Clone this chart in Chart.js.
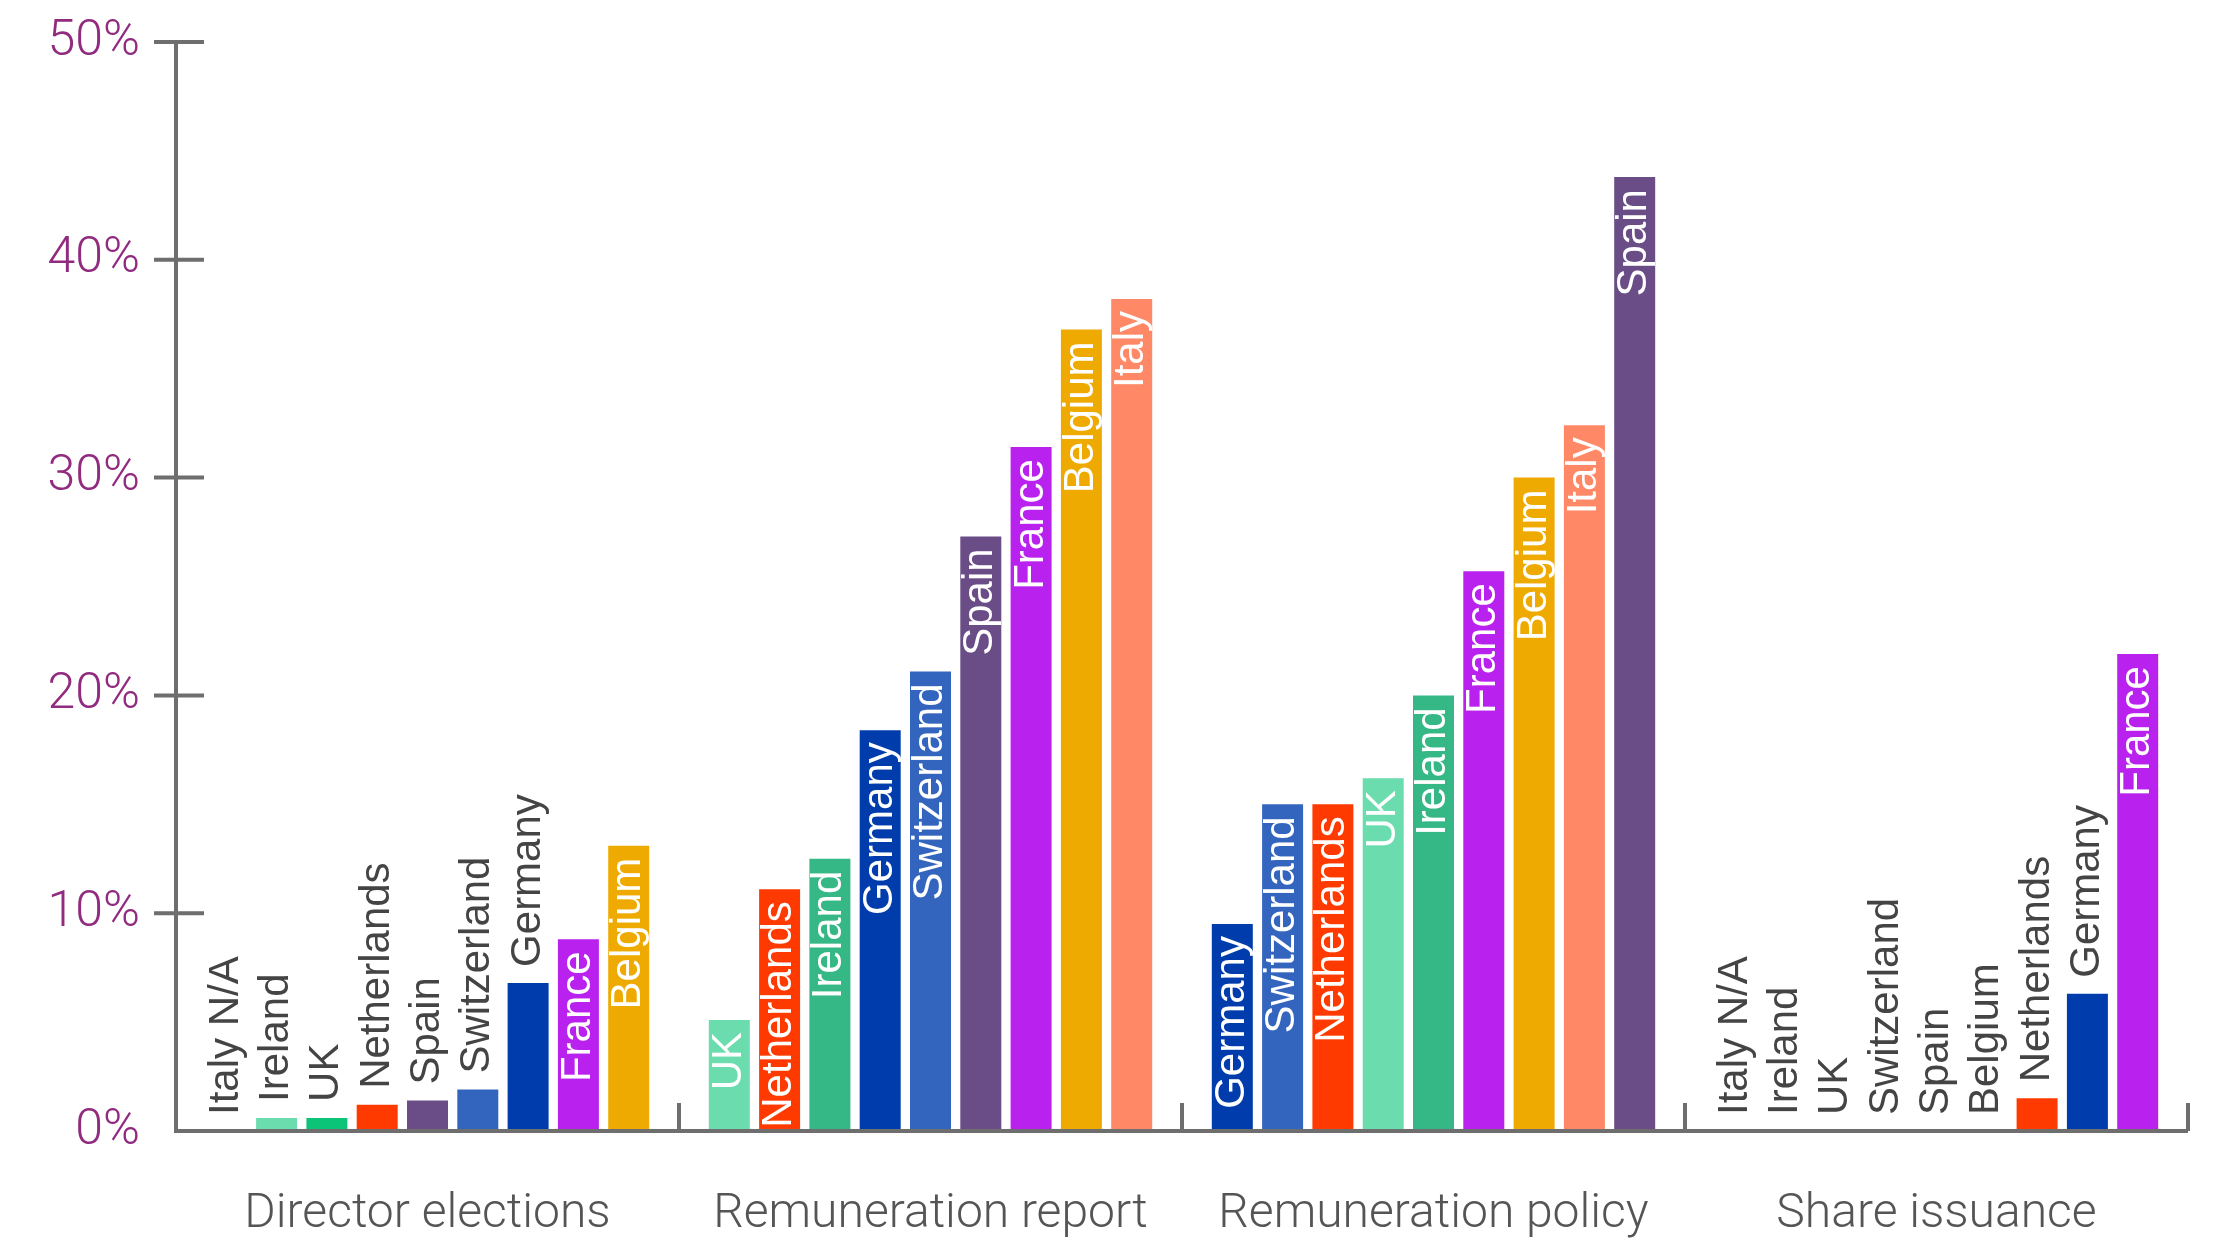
<!DOCTYPE html>
<html>
<head>
<meta charset="utf-8">
<title>Votes against by resolution type</title>
<script src="https://cdn.jsdelivr.net/npm/chart.js@4.4.1/dist/chart.umd.min.js"></script>
<style>
  html, body { margin: 0; padding: 0; background: #fff; }
  #wrap { width: 2213px; height: 1243px; }
</style>
</head>
<body>
<div id="wrap"><canvas id="chart" width="2213" height="1243"></canvas></div>
<script>
// resolution types along the x axis
const groups = ['Director elections', 'Remuneration report', 'Remuneration policy', 'Share issuance'];

// countries per resolution type, sorted by value (as shown)
const directorCountries = ['Italy N/A', 'Ireland', 'UK', 'Netherlands', 'Spain', 'Switzerland', 'Germany', 'France', 'Belgium'];
const directorValues = [null, 0.6, 0.6, 1.2, 1.4, 1.9, 6.8, 8.8, 13.1];

const reportCountries = ['UK', 'Netherlands', 'Ireland', 'Germany', 'Switzerland', 'Spain', 'France', 'Belgium', 'Italy'];
const reportValues = [5.1, 11.1, 12.5, 18.4, 21.1, 27.3, 31.4, 36.8, 38.2];

const policyCountries = ['Germany', 'Switzerland', 'Netherlands', 'UK', 'Ireland', 'France', 'Belgium', 'Italy', 'Spain'];
const policyValues = [9.5, 15.0, 15.0, 16.2, 20.0, 25.7, 30.0, 32.4, 43.8];

const issuanceCountries = ['Italy N/A', 'Ireland', 'UK', 'Switzerland', 'Spain', 'Belgium', 'Netherlands', 'Germany', 'France'];
const issuanceValues = [null, 0, 0, 0, 0, 0, 1.5, 6.3, 21.9];

const yTicks = [0, 10, 20, 30, 40, 50];

const countryColors = {
    'UK': '#6adcad',
    'Ireland': '#35b885',
    'Netherlands': '#ff3a00',
    'Spain': '#6a4c86',
    'Switzerland': '#3465be',
    'Germany': '#003cab',
    'France': '#b922ee',
    'Belgium': '#eeaa00',
    'Italy': '#ff8866'
};
// the director elections panel uses a mint/bright green pair for Ireland and UK
const directorOverrides = { 'Ireland': '#6adcad', 'UK': '#0bc477' };

const AXIS = '#6e6e6e';
const SLOTS = 10; // slots per group, bars sit on slots 1..9

const countriesByGroup = [directorCountries, reportCountries, policyCountries, issuanceCountries];
const valuesByGroup = [directorValues, reportValues, policyValues, issuanceValues];

const points = [];
const colors = [];
const names = [];
countriesByGroup.forEach((list, g) => {
    list.forEach((name, i) => {
        points.push({ x: g * SLOTS + i + 1, y: valuesByGroup[g][i] });
        const key = name.replace(' N/A', '');
        colors.push(g === 0 && directorOverrides[key] ? directorOverrides[key] : countryColors[key]);
        names.push(name);
    });
});

// axes, group ticks and group names
const axisPlugin = {
    id: 'axisLines',
    afterDatasetsDraw(chart) {
        const { ctx, chartArea, scales } = chart;
        const x = scales.x, y = scales.y;
        const base = y.getPixelForValue(0);
        ctx.save();
        ctx.strokeStyle = AXIS;
        ctx.lineWidth = 4;
        ctx.beginPath();
        ctx.moveTo(chartArea.left, y.getPixelForValue(50));
        ctx.lineTo(chartArea.left, base);
        ctx.lineTo(chartArea.right, base);
        yTicks.forEach(t => {
            if (t === 0) return;
            const py = y.getPixelForValue(t);
            ctx.moveTo(chartArea.left - 22, py);
            ctx.lineTo(chartArea.left + 28, py);
        });
        for (let g = 1; g <= groups.length; g++) {
            const px = x.getPixelForValue(g * SLOTS);
            ctx.moveTo(px, base);
            ctx.lineTo(px, base - 28);
        }
        ctx.stroke();

        ctx.fillStyle = '#555555';
        ctx.font = '300 48px Roboto';
        ctx.textAlign = 'center';
        ctx.textBaseline = 'middle';
        groups.forEach((name, g) => {
            const px = x.getPixelForValue(g * SLOTS + SLOTS / 2);
            ctx.fillText(name, px, base + 84);
        });
        ctx.restore();
    }
};

// country names written vertically inside or above each bar
const barLabelPlugin = {
    id: 'barLabels',
    afterDraw(chart) {
        const { ctx } = chart;
        const meta = chart.getDatasetMeta(0);
        const base = chart.scales.y.getPixelForValue(0);
        ctx.save();
        ctx.font = '42px "Liberation Sans"';
        ctx.textBaseline = 'middle';
        meta.data.forEach((bar, i) => {
            const label = names[i];
            const w = ctx.measureText(label).width;
            const top = points[i].y == null ? base : bar.y;
            const h = base - top;
            ctx.save();
            ctx.translate(bar.x, top);
            ctx.rotate(-Math.PI / 2);
            if (w + 6 <= h) {
                ctx.fillStyle = '#ffffff';
                ctx.textAlign = 'right';
                ctx.fillText(label, -Math.min(12, h - w - 3), 0);
            } else {
                ctx.fillStyle = '#444444';
                ctx.textAlign = 'left';
                ctx.fillText(label, 16, 0);
            }
            ctx.restore();
        });
        ctx.restore();
    }
};

new Chart(document.getElementById('chart'), {
    type: 'bar',
    data: {
        datasets: [{
            data: points,
            backgroundColor: colors,
            borderWidth: 0,
            barPercentage: 0.815,
            categoryPercentage: 1.0
        }]
    },
    options: {
        responsive: false,
        animation: false,
        layout: { padding: { top: 42, right: 25, left: 0, bottom: 0 } },
        plugins: {
            legend: { display: false },
            tooltip: { enabled: false }
        },
        scales: {
            x: {
                type: 'linear',
                offset: false,
                min: 0,
                max: groups.length * SLOTS,
                ticks: { display: false, stepSize: SLOTS },
                grid: { display: false, offset: false },
                border: { display: false },
                afterFit(scale) { scale.height = 112; }
            },
            y: {
                min: 0,
                max: 50,
                afterBuildTicks(scale) { scale.ticks = yTicks.map(v => ({ value: v })); },
                ticks: {
                    padding: 28,
                    color: '#912b7f',
                    font: { family: 'Roboto', size: 50, weight: '300' },
                    callback: v => v + '%'
                },
                grid: { display: false },
                border: { display: false },
                afterFit(scale) {
                    scale.width = 176;
                    scale.paddingTop = 0;
                    scale.paddingBottom = 0;
                }
            }
        }
    },
    plugins: [axisPlugin, barLabelPlugin]
});
</script>
</body>
</html>
